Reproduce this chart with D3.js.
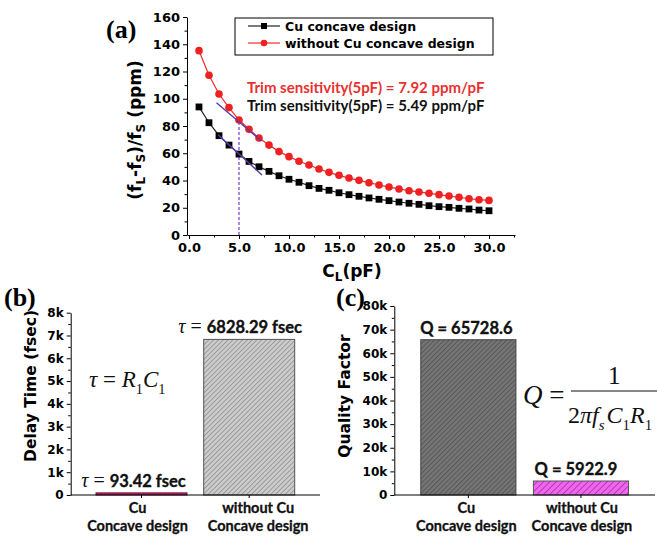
<!DOCTYPE html>
<html>
<head>
<meta charset="utf-8">
<script src="https://cdn.jsdelivr.net/npm/d3@7"></script>
<style>
  body { margin: 0; background: #fff; }
  svg { display: block; }
  .tick line, .domain { stroke: #000; }
</style>
</head>
<body>
<div id="chart"></div>
<script>
// ---- panel (a): frequency pulling vs load capacitance ----
const loadCap = [1, 2, 3, 4, 5, 6, 7, 8, 9, 10, 11, 12, 13, 14, 15, 16, 17, 18, 19, 20,
                 21, 22, 23, 24, 25, 26, 27, 28, 29, 30];
const cuConcave = [94, 82.4, 72.9, 66, 59.4, 54, 50.1, 46.7, 43.5, 40.9, 38.7, 36.2, 34.2, 32.8, 31,
                   29.6, 28.4, 27.2, 26.2, 25.2, 24.2, 23.3, 22.5, 21.5, 20.8, 20.3, 19.6, 19.1, 18.3, 17.8];
const noConcave = [135.3, 117.2, 103.5, 93.5, 84.4, 77.6, 71.2, 66, 61.2, 57.5, 54.1, 51.4, 48.4, 46, 43.8,
                   41.8, 40.1, 38.4, 36.7, 35.2, 33.8, 32.5, 31.6, 30.6, 29.6, 28.6, 27.7, 26.6, 25.9, 25.4];
const tangentNo = [[2.75, 97], [7.25, 69]];
const tangentCu = [[2.9, 73.5], [7.3, 44]];
const markerCap = 5;
const xTicksA = [0, 5, 10, 15, 20, 25, 30];
const yTicksA = [0, 20, 40, 60, 80, 100, 120, 140, 160];
const seriesNames = ["Cu concave design", "without Cu concave design"];
const trimTexts = ["Trim sensitivity(5pF) = 7.92 ppm/pF", "Trim sensitivity(5pF) = 5.49 ppm/pF"];

// ---- panels (b) and (c): bars ----
const designs = ["Cu|Concave design", "without Cu|Concave design"];
const delayTime = [93.42, 6828.29];
const qFactor = [65728.6, 5922.9];
const yTicksB = [0, 1000, 2000, 3000, 4000, 5000, 6000, 7000, 8000];
const yTicksC = [0, 10000, 20000, 30000, 40000, 50000, 60000, 70000, 80000];

const W = 657, H = 539;
const tickFont = "'DejaVu Sans', Verdana, sans-serif";
const calFont = "Lato, 'Open Sans', sans-serif";
const serif = "'Liberation Serif', 'Times New Roman', serif";

const svg = d3.select("#chart").append("svg")
  .attr("width", W).attr("height", H);

// hatch patterns
const defs = svg.append("defs");
function hatch(id, bg, fg, gap, sw) {
  const p = defs.append("pattern")
    .attr("id", id)
    .attr("patternUnits", "userSpaceOnUse")
    .attr("width", gap).attr("height", gap)
    .attr("patternTransform", "rotate(45)");
  p.append("rect").attr("width", gap).attr("height", gap).attr("fill", bg);
  p.append("line").attr("x1", 0).attr("y1", 0).attr("x2", 0).attr("y2", gap)
    .attr("stroke", fg).attr("stroke-width", sw);
}
hatch("hLight", "#cbcbcb", "#777", 3.4, 1.1);
hatch("hDark", "#747474", "#454545", 3.4, 1.1);
hatch("hPink", "#ee66ee", "#9a249a", 4.5, 1.3);
hatch("hRed", "#c0306a", "#801040", 3, 1);

function styleAxis(g, size) {
  g.select(".domain").attr("stroke-width", 1);
  g.selectAll(".tick line").attr("stroke-width", 1);
  g.selectAll(".tick text")
    .attr("fill", "#000")
    .style("font-family", tickFont)
    .style("font-weight", "bold")
    .style("font-size", size + "px");
}

// ================= panel (a) =================
const xA = d3.scaleLinear().domain([-0.2, 32.6]).range([187, 515]);
const yA = d3.scaleLinear().domain([0, 160]).range([235, 17]);

const gA = svg.append("g");

// minor ticks
gA.append("g").attr("transform", "translate(0,235)")
  .call(d3.axisBottom(xA).tickValues(d3.range(2.5, 32.6, 5)).tickFormat("").tickSize(2.5).tickSizeOuter(0))
  .call(g => g.select(".domain").remove());
gA.append("g").attr("transform", "translate(187,0)")
  .call(d3.axisLeft(yA).tickValues(d3.range(10, 160, 20)).tickFormat("").tickSize(2.5).tickSizeOuter(0))
  .call(g => g.select(".domain").remove());

gA.append("g").attr("transform", "translate(0,235)")
  .call(d3.axisBottom(xA).tickValues(xTicksA).tickFormat(d3.format(".1f")).tickSize(4).tickSizeOuter(0).tickPadding(4))
  .call(g => styleAxis(g, 13));
gA.append("g").attr("transform", "translate(187,0)")
  .call(d3.axisLeft(yA).tickValues(yTicksA).tickSize(4).tickSizeOuter(0).tickPadding(3))
  .call(g => styleAxis(g, 13));

// axis titles
const xt = gA.append("text")
  .attr("x", 352).attr("y", 277)
  .attr("text-anchor", "middle")
  .style("font-family", tickFont).style("font-weight", "bold").style("font-size", "17px");
xt.append("tspan").text("C");
xt.append("tspan").attr("dy", 4).style("font-size", "12px").text("L");
xt.append("tspan").attr("dy", -4).text("(pF)");

const yt = gA.append("text")
  .attr("transform", "translate(141,130) rotate(-90)")
  .attr("text-anchor", "middle")
  .style("font-family", tickFont).style("font-weight", "bold").style("font-size", "17px");
[["(f", 0], ["L", 4], ["-f", -4], ["S", 4], [")/f", -4], ["S", 4], [" (ppm)", -4]].forEach(([t, dy], i) => {
  yt.append("tspan").attr("dy", dy)
    .style("font-size", i % 2 === 1 ? "12px" : "17px").text(t);
});

// guide at 5 pF
const line = d3.line().x(d => xA(d[0])).y(d => yA(d[1]));
gA.append("path").attr("d", line([[markerCap, 0], [markerCap, noConcave[loadCap.indexOf(markerCap)]]]))
  .attr("stroke", "#7a4fd6").attr("stroke-width", 1.3).attr("stroke-dasharray", "3,2").attr("fill", "none");

const seriesLine = d3.line().x((d, i) => xA(loadCap[i])).y(d => yA(d));
gA.append("path").attr("d", seriesLine(noConcave))
  .attr("fill", "none").attr("stroke", "#ee2a2a").attr("stroke-width", 1.2);
gA.append("path").attr("d", seriesLine(cuConcave))
  .attr("fill", "none").attr("stroke", "#222").attr("stroke-width", 1.2);

gA.selectAll(".dotR").data(noConcave).enter().append("circle")
  .attr("cx", (d, i) => xA(loadCap[i])).attr("cy", d => yA(d)).attr("r", 3.8)
  .attr("fill", "#ee2020");
gA.selectAll(".dotK").data(cuConcave).enter().append("rect")
  .attr("x", (d, i) => xA(loadCap[i]) - 3.4).attr("y", d => yA(d) - 3.4)
  .attr("width", 6.8).attr("height", 6.8).attr("fill", "#000");

// tangent lines
[tangentNo, tangentCu].forEach(t => {
  gA.append("path").attr("d", line(t))
    .attr("stroke", "#5a3aa8").attr("stroke-width", 1.4).attr("fill", "none");
});

// legend
gA.append("rect").attr("x", 235).attr("y", 18).attr("width", 258).attr("height", 37)
  .attr("fill", "#fff").attr("stroke", "#000").attr("stroke-width", 1);
seriesNames.forEach((name, i) => {
  const ly = 26 + i * 17;
  const col = i === 0 ? "#222" : "#ee2a2a";
  gA.append("line").attr("x1", 248).attr("x2", 280).attr("y1", ly).attr("y2", ly)
    .attr("stroke", col).attr("stroke-width", 1.2);
  if (i === 0) {
    gA.append("rect").attr("x", 261).attr("y", ly - 3).attr("width", 6).attr("height", 6).attr("fill", "#000");
  } else {
    gA.append("circle").attr("cx", 264).attr("cy", ly).attr("r", 3.3).attr("fill", "#ee2020");
  }
  gA.append("text").attr("x", 285).attr("y", ly + 4.5)
    .style("font-family", tickFont).style("font-weight", "bold").style("font-size", "12.5px")
    .text(name);
});

trimTexts.forEach((t, i) => {
  gA.append("text").attr("x", 247).attr("y", 93 + i * 17.5)
    .attr("fill", i === 0 ? "#e8302f" : "#111")
    .style("font-family", calFont).style("font-weight", "bold").style("font-size", "15px")
    .text(t);
});

svg.append("text").attr("x", 106).attr("y", 38)
  .style("font-family", serif).style("font-weight", "bold").style("font-size", "26px")
  .text("(a)");

// ================= bar panels =================
function barPanel(opts) {
  const g = svg.append("g");
  const x = d3.scaleBand().domain(designs).range([opts.x0, opts.x1])
    .paddingInner(0.155).paddingOuter(0.235);
  const y = d3.scaleLinear().domain([0, opts.max]).range([495, opts.top]);

  g.append("g").attr("transform", `translate(${opts.x0},0)`)
    .call(d3.axisLeft(y).tickValues(d3.range(opts.max / 16, opts.max, opts.max / 8)).tickFormat("").tickSize(2.5).tickSizeOuter(0))
    .call(a => a.select(".domain").remove());
  g.append("g").attr("transform", `translate(${opts.x0},0)`)
    .call(d3.axisLeft(y).tickValues(opts.ticks).tickSize(4).tickSizeOuter(0).tickPadding(3)
      .tickFormat(d => d === 0 ? "0" : d / 1000 + "k"))
    .call(a => styleAxis(a, 12));

  g.selectAll(".bar").data(opts.values).enter().append("rect")
    .attr("x", (d, i) => x(designs[i]))
    .attr("y", d => y(d))
    .attr("width", x.bandwidth())
    .attr("height", d => 495 - y(d))
    .attr("fill", (d, i) => `url(#${opts.fills[i]})`)
    .attr("stroke", (d, i) => opts.strokes[i])
    .attr("stroke-width", 1);

  g.append("g").attr("transform", "translate(0,495)")
    .call(d3.axisBottom(x).tickSize(3).tickSizeOuter(0).tickFormat(""))
    .call(a => a.select(".domain").attr("d", `M${opts.x0},0H${opts.x1}`));

  // category labels
  designs.forEach((c, i) => {
    const cx = x(c) + x.bandwidth() / 2 + opts.labelShift[i];
    const t = g.append("text")
      .attr("x", cx).attr("y", 513)
      .attr("text-anchor", "middle")
      .style("font-family", calFont).style("font-weight", "bold").style("font-size", "14.5px")
      .attr("fill", "#111").attr("stroke", "#111").attr("stroke-width", 0.3);
    c.split("|").forEach((s, k) => {
      t.append("tspan").attr("x", cx).attr("dy", k === 0 ? 0 : 18).text(s);
    });
  });

  // axis title
  g.append("text")
    .attr("transform", `translate(${opts.titleX},${opts.titleY}) rotate(-90)`)
    .attr("text-anchor", "middle")
    .style("font-family", tickFont).style("font-weight", "bold").style("font-size", "15.5px")
    .text(opts.title);

  // value labels
  opts.values.forEach((v, i) => {
    const t = g.append("text")
      .attr("x", x(designs[i]) + x.bandwidth() / 2 + opts.valShift[i])
      .attr("y", y(v) - 6)
      .attr("text-anchor", "middle")
      .style("font-family", calFont).style("font-weight", "bold").style("font-size", "16.5px")
      .attr("fill", "#111").attr("stroke", "#111").attr("stroke-width", 0.35);
    opts.valueText(t, v);
  });

  svg.append("text").attr("x", opts.tagX).attr("y", 306)
    .style("font-family", serif).style("font-weight", "bold").style("font-size", "26px")
    .text(opts.tag);
  return g;
}

const gB = barPanel({
  x0: 70.7, x1: 320, top: 312.7, max: 8000, ticks: yTicksB, values: delayTime,
  fills: ["hRed", "hLight"], strokes: ["#7a1040", "#555"],
  labelShift: [-4, 9], valShift: [-8, -9],
  title: "Delay Time (fsec)", titleX: 36, titleY: 386,
  tag: "(b)", tagX: 4,
  valueText: (t, v) => {
    t.append("tspan").style("font-family", serif).style("font-style", "italic")
      .style("font-weight", "normal").attr("stroke-width", 0).style("font-size", "20px").text("\u03C4");
    t.append("tspan").style("font-family", serif).attr("stroke-width", 0)
      .style("font-weight", "normal").style("font-size", "20px").text(" = ");
    t.append("tspan").text(d3.format(".2f")(v) + " fsec");
  }
});

const gC = barPanel({
  x0: 394.3, x1: 655, top: 306, max: 80000, ticks: yTicksC, values: qFactor,
  fills: ["hDark", "hPink"], strokes: ["#444", "#555"],
  labelShift: [-2, 1], valShift: [-2, -5],
  title: "Quality Factor", titleX: 350, titleY: 396,
  tag: "(c)", tagX: 336,
  valueText: (t, v) => { t.text("Q = " + v); }
});

// formula helper (tspans with subscripts)
function mathText(g, x, y, size, parts) {
  const t = g.append("text").attr("x", x).attr("y", y)
    .style("font-family", serif).style("font-size", size + "px").attr("fill", "#111");
  let cur = 0;
  parts.forEach(p => {
    const sub = p.sub ? size * 0.3 : 0;
    t.append("tspan").attr("dy", sub - cur)
      .style("font-style", p.it ? "italic" : "normal")
      .style("font-size", (p.sub ? size * 0.62 : size) + "px")
      .attr("dx", p.dx || 0)
      .text(p.s);
    cur = sub;
  });
  return t;
}
// tau = R1 C1
mathText(gB, 89, 387, 23, [
  { s: "\u03C4", it: true }, { s: " = " }, { s: "R", it: true }, { s: "1", sub: true },
  { s: "C", it: true }, { s: "1", sub: true }
]);

// Q = 1 / (2 pi fs C1 R1)
mathText(gC, 523, 404, 27, [{ s: "Q", it: true }, { s: " =" }]);
gC.append("line").attr("x1", 571).attr("x2", 657).attr("y1", 391).attr("y2", 391)
  .attr("stroke", "#111").attr("stroke-width", 1.2);
mathText(gC, 608, 384, 25, [{ s: "1" }]);
mathText(gC, 568, 423, 24, [
  { s: "2" }, { s: "\u03C0", it: true }, { s: "f", it: true }, { s: "s", it: true, sub: true },
  { s: "C", it: true, dx: 2 }, { s: "1", sub: true }, { s: "R", it: true }, { s: "1", sub: true }
]);
</script>
</body>
</html>
